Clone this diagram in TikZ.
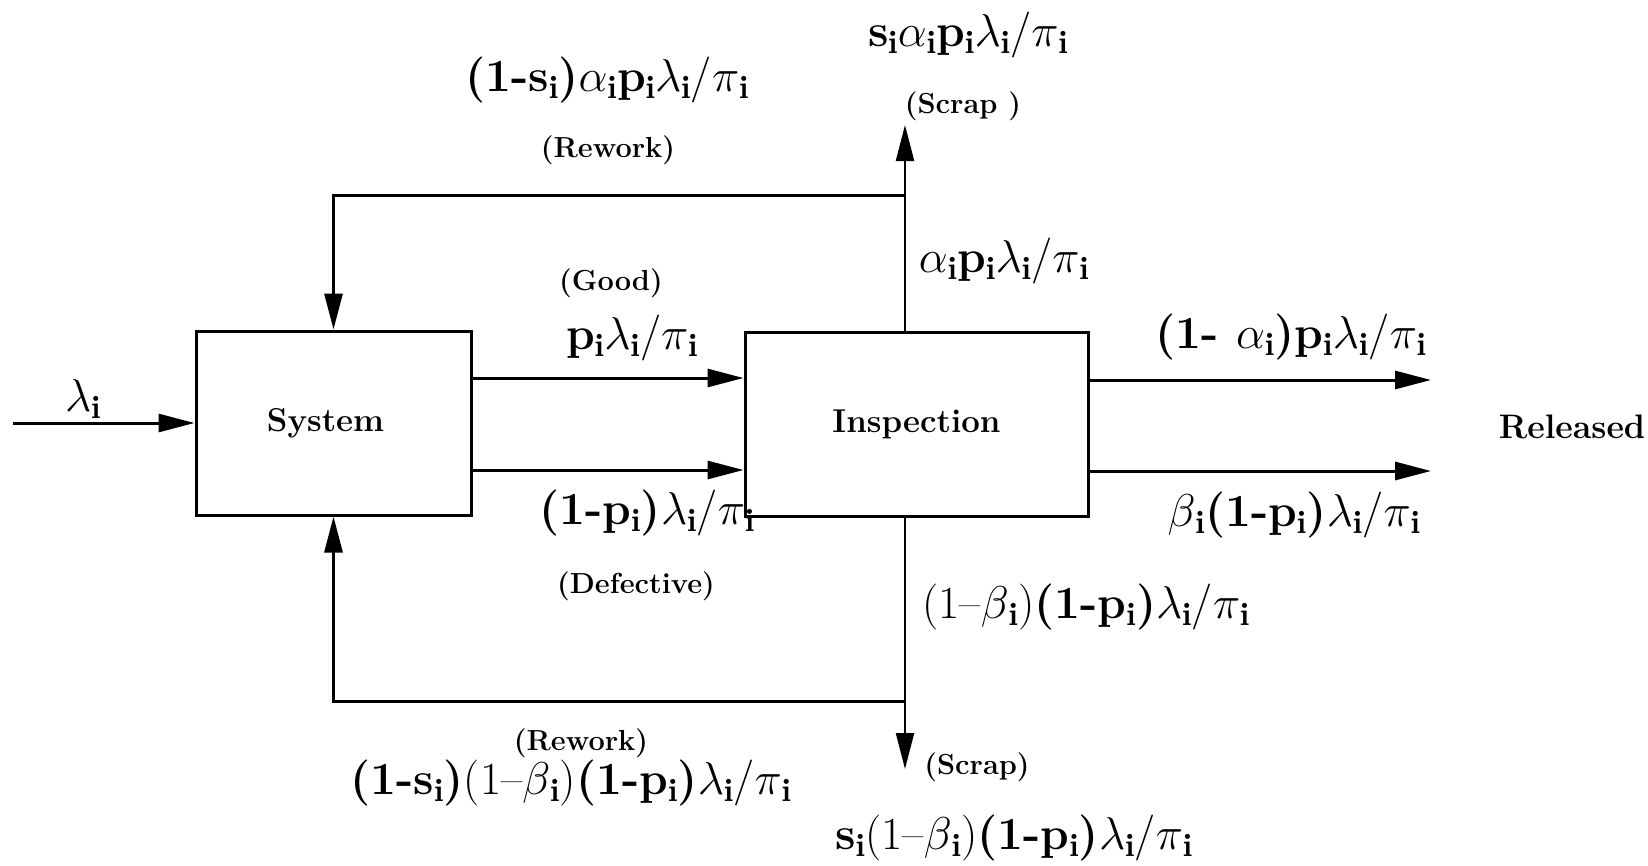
\documentclass[tikz,border=0pt]{standalone}
\usepackage{fix-cm}
\usepackage{fontspec}
\usetikzlibrary{arrows.meta,calc}

% bold subscript index
\newcommand{\ix}{\ensuremath{_{\mathbf{i}}}}

\tikzset{
  flow/.style={line width=3pt},
  thru/.style={line width=2.2pt},
  tip/.style={-{Triangle[length=36pt,width=18pt]}},
  block/.style={draw, line width=3pt, minimum width=275pt, minimum height=184pt,
    inner sep=0pt, font=\bfseries\fontsize{33}{39}\selectfont},
  rate/.style={inner sep=0pt, font=\fontsize{46}{54}\selectfont},
  tag/.style={inner sep=0pt, font=\bfseries\fontsize{29}{34}\selectfont},
  word/.style={inner sep=0pt, font=\bfseries\fontsize{34}{40}\selectfont},
}

\begin{document}
\begin{tikzpicture}[x=1pt,y=-1pt]
\useasboundingbox (0,0) rectangle (1648,865);
\fill[white] (0,0) rectangle (1648,865);

% the two process blocks
\node[block] (sys) at (333.5,423) {\hspace*{-16pt}System};
\node[block, minimum width=343pt] (insp) at (916.5,424) {Inspection};

% fixed points of the flows
\coordinate (src)   at (13,423);
\coordinate (topj)  at (905,195);
\coordinate (topx)  at (905,125);
\coordinate (botj)  at (905,701);
\coordinate (botx)  at (905,769);
\coordinate (relA)  at (1431,380);
\coordinate (relB)  at (1431,471);

% input
\draw[flow,tip] (src) -- (sys.west);

% good and defective items to inspection
\draw[flow,tip] ($(sys.east)+(0,-45)$) -- ($(insp.west)+(0,-46)$);
\draw[flow,tip] ($(sys.east)+(0,47)$) -- ($(insp.west)+(0,46)$);

% released items
\draw[flow,tip] (insp.east |- relA) -- (relA);
\draw[flow,tip] (insp.east |- relB) -- (relB);

% rejected good items: scrap up, rework back to the system
\draw[thru,tip] (insp.north -| topj) -- (topx);
\draw[flow,tip] (topj) -| (sys.north);

% rejected defective items: scrap down, rework back to the system
\draw[thru,tip] (insp.south -| botj) -- (botx);
\draw[flow,tip] (botj) -| (sys.south);

% flow labels
\node[rate] (lin) at (83,399) {$\lambda$\ix};

\node[rate] (rwT) at (607,80)
  {\textbf{(1-s}\ix\textbf{)}$\alpha$\ix\textbf{p}\ix$\lambda$\ix/$\pi$\ix};
\node[tag] (rwTt) at (608,150) {(Rework)};

\node[rate] (scT) at (968,35)
  {\textbf{s}\ix$\alpha$\ix\textbf{p}\ix$\lambda$\ix/$\pi$\ix};
\node[tag] (scTt) at (963,106) {(Scrap )};

\node[rate] (rejG) at (1004,261)
  {$\alpha$\ix\textbf{p}\ix$\lambda$\ix/$\pi$\ix};

\node[tag] (goodt) at (611,283) {(Good)};
\node[rate] (good) at (632,338) {\textbf{p}\ix$\lambda$\ix/$\pi$\ix};

\node[rate] (defv) at (647,513) {\textbf{(1-p}\ix\textbf{)}$\lambda$\ix/$\pi$\ix};
\node[tag] (deft) at (636,586) {(Defective)};

\node[rate] (relAt) at (1291,337)
  {\textbf{(1- }$\alpha$\ix\textbf{)p}\ix$\lambda$\ix/$\pi$\ix};
\node[word] (rel) at (1572,427) {Released};
\node[rate] (relBt) at (1294,515)
  {$\beta$\ix\textbf{(1-p}\ix\textbf{)}$\lambda$\ix/$\pi$\ix};

\node[rate] (rejD) at (1086,607)
  {(1--$\beta$\ix)\textbf{(1-p}\ix\textbf{)}$\lambda$\ix/$\pi$\ix};

\node[tag] (rwBt) at (581,743) {(Rework)};
\node[rate] (rwB) at (571,783)
  {\textbf{(1-s}\ix\textbf{)}(1--$\beta$\ix)\textbf{(1-p}\ix\textbf{)}$\lambda$\ix/$\pi$\ix};

\node[tag] (scBt) at (977,767) {(Scrap)};
\node[rate] (scB) at (1014,838)
  {\textbf{s}\ix(1--$\beta$\ix)\textbf{(1-p}\ix\textbf{)}$\lambda$\ix/$\pi$\ix};
\end{tikzpicture}
\end{document}
